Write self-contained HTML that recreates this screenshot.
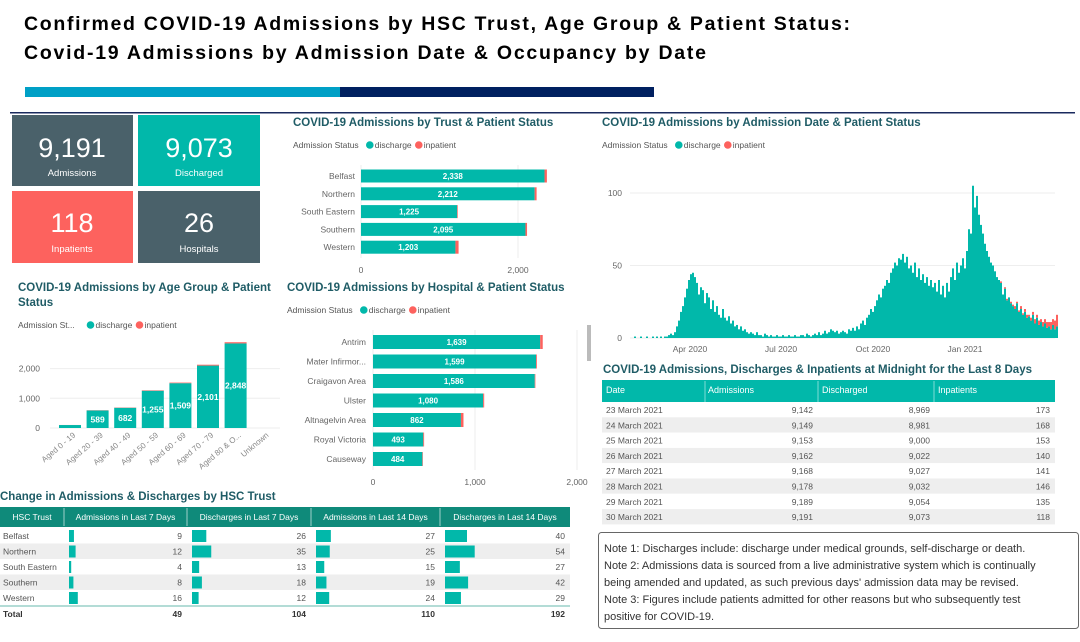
<!DOCTYPE html>
<html><head><meta charset="utf-8"><style>
body{margin:0;background:#fff;width:1080px;height:637px;overflow:hidden;font-family:"Liberation Sans",sans-serif}
svg text{font-family:"Liberation Sans",sans-serif}
</style></head><body>
<svg id="s" width="1080" height="637" viewBox="0 0 1080 637" xmlns="http://www.w3.org/2000/svg">
<text x="24" y="30" font-size="19.5" font-weight="bold" fill="#000" textLength="826" lengthAdjust="spacing">Confirmed COVID-19 Admissions by HSC Trust, Age Group &amp; Patient Status:</text>
<text x="24" y="59" font-size="19.5" font-weight="bold" fill="#000" textLength="682" lengthAdjust="spacing">Covid-19 Admissions by Admission Date &amp; Occupancy by Date</text>
<rect x="25" y="87" width="315" height="10" fill="#00a0c6"/>
<rect x="340" y="87" width="314" height="10" fill="#002060"/>
<rect x="10" y="112" width="1065" height="1.5" fill="#1a2a5e"/>

<g><rect x="12" y="115" width="121" height="71" fill="#4a616a"/><text x="72" y="157" font-size="27" fill="#fff" text-anchor="middle">9,191</text><text x="72" y="176" font-size="9.5" fill="#fff" text-anchor="middle">Admissions</text></g>
<g><rect x="138" y="115" width="122" height="71" fill="#01b8aa"/><text x="199" y="157" font-size="27" fill="#fff" text-anchor="middle">9,073</text><text x="199" y="176" font-size="9.5" fill="#fff" text-anchor="middle">Discharged</text></g>
<g><rect x="12" y="191" width="121" height="72" fill="#fd625e"/><text x="72" y="232" font-size="27" fill="#fff" text-anchor="middle">118</text><text x="72" y="252" font-size="9.5" fill="#fff" text-anchor="middle">Inpatients</text></g>
<g><rect x="138" y="191" width="122" height="72" fill="#4a616a"/><text x="199" y="232" font-size="27" fill="#fff" text-anchor="middle">26</text><text x="199" y="252" font-size="9.5" fill="#fff" text-anchor="middle">Hospitals</text></g>

<text x="293" y="126" font-size="11.5" font-weight="bold" fill="#1f5c66">COVID-19 Admissions by Trust &amp; Patient Status</text>
<g id="trust"></g>
<text x="18" y="291" font-size="11.5" font-weight="bold" fill="#1f5c66">COVID-19 Admissions by Age Group &amp; Patient</text>
<text x="18" y="306" font-size="11.5" font-weight="bold" fill="#1f5c66">Status</text>
<g id="age"></g>
<text x="287" y="291" font-size="11.5" font-weight="bold" fill="#1f5c66">COVID-19 Admissions by Hospital &amp; Patient Status</text>
<g id="hosp"></g>
<rect x="587" y="325" width="4" height="36" fill="#bbb"/>
<text x="602" y="126" font-size="11.5" font-weight="bold" fill="#1f5c66">COVID-19 Admissions by Admission Date &amp; Patient Status</text>
<g id="ts"></g>
<text x="603" y="373" font-size="11.5" font-weight="bold" fill="#1f5c66">COVID-19 Admissions, Discharges &amp; Inpatients at Midnight for the Last 8 Days</text>
<g id="t8"></g>
<g>
<rect x="598.5" y="532.5" width="480" height="96" rx="3" fill="#fff" stroke="#666"/>
<text font-size="11" fill="#333"><tspan x="604" y="552">Note 1: Discharges include: discharge under medical grounds, self-discharge or death.</tspan><tspan x="604" y="569">Note 2: Admissions data is sourced from a live administrative system which is continually</tspan><tspan x="604" y="586">being amended and updated, as such previous days' admission data may be revised.</tspan><tspan x="604" y="603">Note 3: Figures include patients admitted for other reasons but who subsequently test</tspan><tspan x="604" y="620">positive for COVID-19.</tspan></text></g>
<text x="0" y="500" font-size="11.5" font-weight="bold" fill="#1f5c66">Change in Admissions &amp; Discharges by HSC Trust</text>
<g id="chg"></g>
</svg>
<script>
const trusts=["Belfast","Northern","South Eastern","Southern","Western"];
const trustDis=[2338,2212,1225,2095,1203];
const trustInp=[30,25,8,20,40];
const ageCats=["Aged 0 - 19","Aged 20 - 39","Aged 40 - 49","Aged 50 - 59","Aged 60 - 69","Aged 70 - 79","Aged 80 & O...","Unknown"];
const ageDis=[100,589,682,1255,1509,2101,2848,0];
const ageInp=[2,8,9,15,20,30,40,0];
const hospitals=["Antrim","Mater Infirmor...","Craigavon Area","Ulster","Altnagelvin Area","Royal Victoria","Causeway"];
const hospDis=[1639,1599,1586,1080,862,493,484];
const hospInp=[25,8,6,10,25,8,5];
// admissions per 2-day bucket starting 1 Feb 2020
const tsDis=[0,0,1,0,0,1,0,0,1,0,0,1,0,1,0,
1,0,1,1,2,3,2,4,8,12,18,22,28,34,40,44,
45,42,38,30,35,33,24,31,28,20,26,18,22,16,14,
20,14,12,15,10,12,8,9,6,8,5,6,4,3,4,
3,2,4,2,2,1,3,2,1,2,1,1,2,1,1,
2,1,1,2,1,1,2,1,1,2,2,1,3,2,1,
2,3,2,4,2,3,5,3,4,6,5,4,5,3,4,5,
4,3,6,5,7,5,8,6,10,12,9,14,16,20,18,
22,26,30,28,34,36,40,38,45,48,52,50,55,54,58,52,
56,48,50,45,52,42,48,40,44,38,42,36,40,35,38,
32,40,30,36,28,38,32,42,48,40,52,45,50,55,48,60,
75,72,105,90,98,85,78,72,65,60,56,52,50,46,42,40,
38,30,34,26,28,24,22,20,24,18,20,16,18,14,
15,12,16,10,14,9,11,8,10,7,8,6,9,6,8];
const tsInpTail=[0,1,0,1,1,0,1,1,2,1,1,2,1,2,2,1,2,2,3,2,3,2,3,3,4,3,5,4,6,8];
const tsTicks=["Apr 2020","Jul 2020","Oct 2020","Jan 2021"];
const tsTickDays=[60,151,243,335];
const t8Dates=["23 March 2021","24 March 2021","25 March 2021","26 March 2021","27 March 2021","28 March 2021","29 March 2021","30 March 2021"];
const t8Adm=["9,142","9,149","9,153","9,162","9,168","9,178","9,189","9,191"];
const t8Dis=["8,969","8,981","9,000","9,022","9,027","9,032","9,054","9,073"];
const t8Inp=[173,168,153,140,141,146,135,118];
const chA7=[9,12,4,8,16], chD7=[26,35,13,18,12], chA14=[27,25,15,19,24], chD14=[40,54,27,42,29];
const chTotals=[49,104,110,192];

const NS="http://www.w3.org/2000/svg";
const TEAL="#01b8aa",RED="#fd625e";
function mk(p,tag,a,txt){const e=document.createElementNS(NS,tag);for(const k in a)e.setAttribute(k,a[k]);if(txt!==undefined)e.textContent=txt;p.appendChild(e);return e;}
function fmt(n){return n.toLocaleString("en-US");}
function legend(p,x,y,lbl){
 const l=mk(p,"g",{});
 
 
 const t=mk(l,"text",{x:x,y:y,"font-size":8.5,fill:"#555"},lbl);
 const w=lbl.length*4.3+4;
 mk(l,"circle",{cx:x+w+4,cy:y-3,r:3.8,fill:TEAL});
 mk(l,"text",{x:x+w+9,y:y,"font-size":8.5,fill:"#555"},"discharge");
 mk(l,"circle",{cx:x+w+53,cy:y-3,r:3.8,fill:RED});
 mk(l,"text",{x:x+w+58,y:y,"font-size":8.5,fill:"#555"},"inpatient");
}
(function(){
 const g=document.getElementById("trust");
 legend(g,293,148,"Admission Status");
 const x=v=>361+v*0.0785, y0=176, step=17.8;
 [0,2000].forEach(v=>{mk(g,"line",{x1:x(v),x2:x(v),y1:165,y2:258,stroke:"#eee"});mk(g,"text",{x:x(v),y:273,"font-size":8.5,fill:"#666","text-anchor":"middle"},fmt(v));});
 trusts.forEach((t,i)=>{const cy=y0+i*step;
  mk(g,"text",{x:355,y:cy+3,"font-size":8.5,fill:"#666","text-anchor":"end"},t);
  const b=mk(g,"rect",{x:x(0),y:cy-6.5,width:x(trustDis[i])-x(0),height:13,fill:TEAL});
  
  
  mk(g,"rect",{x:x(trustDis[i]),y:cy-6.5,width:x(trustInp[i])-x(0),height:13,fill:RED});
  mk(g,"text",{x:(x(0)+x(trustDis[i]))/2,y:cy+3,"font-size":8,"font-weight":"bold",fill:"#fff","text-anchor":"middle"},fmt(trustDis[i]));
 });
})();
(function(){
 const g=document.getElementById("age");
 legend(g,18,328,"Admission St...");
 const y=v=>428-v*0.0297, x0=70, step=27.6;
 [0,1000,2000].forEach(v=>{mk(g,"line",{x1:50,x2:280,y1:y(v),y2:y(v),stroke:"#eee"});mk(g,"text",{x:40,y:y(v)+3,"font-size":8.5,fill:"#666","text-anchor":"end"},fmt(v));});
 ageCats.forEach((c,i)=>{const cx=x0+i*step;
  if(ageDis[i]>0){
   const b=mk(g,"rect",{x:cx-11,y:y(ageDis[i]),width:22,height:428-y(ageDis[i]),fill:TEAL});
   
   
   mk(g,"rect",{x:cx-11,y:y(ageDis[i]+ageInp[i]),width:22,height:y(ageDis[i])-y(ageDis[i]+ageInp[i]),fill:RED});
   if(ageDis[i]>300)mk(g,"text",{x:cx,y:(y(ageDis[i])+428)/2+3,"font-size":8.5,"font-weight":"bold",fill:"#fff","text-anchor":"middle"},fmt(ageDis[i]));
  }
  mk(g,"text",{x:cx+6,y:436,"font-size":8,fill:"#888","text-anchor":"end",transform:`rotate(-40 ${cx+6} 436)`},c);
 });
})();
(function(){
 const g=document.getElementById("hosp");
 legend(g,287,313,"Admission Status");
 const x=v=>373+v*0.102, y0=342, step=19.5;
 [0,1000,2000].forEach(v=>{mk(g,"line",{x1:x(v),x2:x(v),y1:330,y2:470,stroke:"#eee"});mk(g,"text",{x:x(v),y:485,"font-size":8.5,fill:"#666","text-anchor":"middle"},fmt(v));});
 hospitals.forEach((h,i)=>{const cy=y0+i*step;
  mk(g,"text",{x:366,y:cy+3,"font-size":8.5,fill:"#666","text-anchor":"end"},h);
  const b=mk(g,"rect",{x:x(0),y:cy-7,width:x(hospDis[i])-x(0),height:14,fill:TEAL});
  
  
  mk(g,"rect",{x:x(hospDis[i]),y:cy-7,width:x(hospInp[i])-x(0),height:14,fill:RED});
  mk(g,"text",{x:(x(0)+x(hospDis[i]))/2,y:cy+3,"font-size":8,"font-weight":"bold",fill:"#fff","text-anchor":"middle"},fmt(hospDis[i]));
 });
})();
(function(){
 const g=document.getElementById("ts");
 legend(g,602,148,"Admission Status");
 const x=d=>630+d, y=v=>338-v*1.45;
 [0,50,100].forEach(v=>{mk(g,"line",{x1:630,x2:1055,y1:y(v),y2:y(v),stroke:"#eee"});mk(g,"text",{x:622,y:y(v)+3,"font-size":8.5,fill:"#666","text-anchor":"end"},v);});
 tsTicks.forEach((t,i)=>mk(g,"text",{x:x(tsTickDays[i]),y:352,"font-size":8.5,fill:"#666","text-anchor":"middle"},t));
 const off=tsDis.length-tsInpTail.length;
 tsDis.forEach((v,i)=>{
  const inp=i>=off?tsInpTail[i-off]:0;
  const b=mk(g,"rect",{x:x(i*2),y:y(v),width:2,height:338-y(v)+0.01,fill:TEAL});
  
  
  if(inp>0)mk(g,"rect",{x:x(i*2),y:y(v+inp),width:2,height:y(v)-y(v+inp),fill:RED});
 });
})();
(function(){
 const g=document.getElementById("t8");
 mk(g,"rect",{x:602,y:380,width:453,height:22,fill:TEAL});
 const hx=[606,708,822,938];
 ["Date","Admissions","Discharged","Inpatients"].forEach((h,i)=>mk(g,"text",{x:hx[i],y:393,"font-size":9,fill:"#fff"},h));
 [705,818,934].forEach(xx=>mk(g,"line",{x1:xx,x2:xx,y1:381,y2:402,stroke:"#fff","stroke-opacity":0.5}));
 t8Dates.forEach((d,i)=>{const ry=402+i*15.3;
  const r=mk(g,"rect",{x:602,y:ry,width:453,height:15.3,fill:i%2?"#eeeeee":"#fff"});
  
  
  mk(g,"text",{x:606,y:ry+11,"font-size":8.5,fill:"#555"},d);
  mk(g,"text",{x:813,y:ry+11,"font-size":8.5,fill:"#555","text-anchor":"end"},t8Adm[i]);
  mk(g,"text",{x:930,y:ry+11,"font-size":8.5,fill:"#555","text-anchor":"end"},t8Dis[i]);
  mk(g,"text",{x:1050,y:ry+11,"font-size":8.5,fill:"#555","text-anchor":"end"},t8Inp[i]);
 });
})();
(function(){
 const g=document.getElementById("chg");
 mk(g,"rect",{x:0,y:507,width:570,height:20,fill:"#0f8a7a"});
 const cx=[0,64,187,311,440,570];
 ["HSC Trust","Admissions in Last 7 Days","Discharges in Last 7 Days","Admissions in Last 14 Days","Discharges in Last 14 Days"].forEach((h,i)=>{
  mk(g,"text",{x:(cx[i]+cx[i+1])/2,y:520,"font-size":8.5,fill:"#fff","text-anchor":"middle"},h);
  if(i>0)mk(g,"line",{x1:cx[i],x2:cx[i],y1:508,y2:526,stroke:"#fff","stroke-opacity":0.6});
 });
 const cols=[chA7,chD7,chA14,chD14];
 trusts.forEach((t,i)=>{const ry=528+i*15.5;
  const r=mk(g,"rect",{x:0,y:ry,width:570,height:15.5,fill:i%2?"#eeeeee":"#fff"});
  
  
  mk(g,"text",{x:3,y:ry+11,"font-size":8.5,fill:"#555"},t);
  cols.forEach((c,j)=>{
   mk(g,"rect",{x:cx[j+1]+5,y:ry+2,width:c[i]*0.55,height:12,fill:TEAL});
   mk(g,"text",{x:cx[j+2]-5,y:ry+11,"font-size":8.5,fill:"#555","text-anchor":"end"},c[i]);
  });
 });
 mk(g,"line",{x1:0,x2:570,y1:606,y2:606,stroke:"#9ad0c8","stroke-width":1.5});
 mk(g,"text",{x:3,y:617,"font-size":8.5,"font-weight":"bold",fill:"#333"},"Total");
 chTotals.forEach((v,j)=>mk(g,"text",{x:cx[j+2]-5,y:617,"font-size":8.5,"font-weight":"bold",fill:"#333","text-anchor":"end"},v));
})();
</script>
</body></html>
